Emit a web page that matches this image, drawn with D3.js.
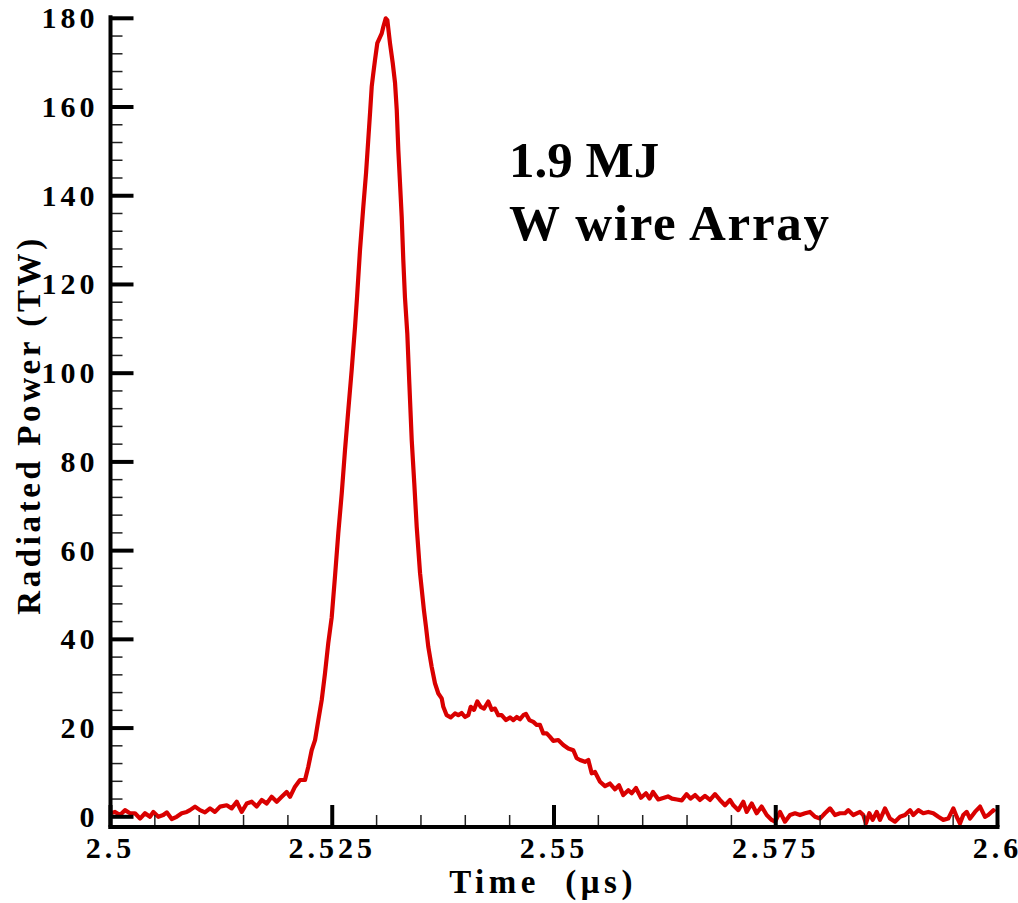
<meta charset="utf-8">
<style>
    body{ margin:0; background:#fff; }
    svg{ display:block; }
    .lbl{ font-family:"Liberation Serif","Times New Roman",serif; font-weight:bold; fill:#000; }
</style>
<script src="https://d3js.org/d3.v7.min.js"></script>
<body>
<div id="chart"></div>
</body>
<script>
    // time in microseconds
    var time = [
        2.5000, 2.50051, 2.50107, 2.50163, 2.50220, 2.50276, 2.50333, 2.50389, 2.50445, 2.50483,
        2.50539, 2.50595, 2.50634, 2.50690, 2.50746, 2.50803, 2.50859, 2.50896, 2.50953, 2.51009,
        2.51065, 2.51122, 2.51178, 2.51235, 2.51310, 2.51366, 2.51423, 2.51479, 2.51536, 2.51592,
        2.51648, 2.51705, 2.51761, 2.51817, 2.51874, 2.51930, 2.51986, 2.52024, 2.52080, 2.52136,
        2.52193, 2.52230, 2.52268, 2.52306, 2.52343, 2.52381, 2.52418, 2.52455, 2.52494, 2.52531,
        2.52568, 2.52607, 2.52644, 2.52681, 2.52719, 2.52757, 2.52779, 2.52813, 2.52850, 2.52881,
        2.52906, 2.52926, 2.52945, 2.52963, 2.52982, 2.53008, 2.53058, 2.53076, 2.53103, 2.53121,
        2.53151, 2.53182, 2.53208, 2.53227, 2.53245, 2.53264, 2.53283, 2.53301, 2.53320, 2.53346,
        2.53369, 2.53396, 2.53425, 2.53452, 2.53490, 2.53534, 2.53557, 2.53583, 2.53621, 2.53658,
        2.53696, 2.53734, 2.53752, 2.53790, 2.53835, 2.53884, 2.53921, 2.53959, 2.53997, 2.54034,
        2.54061, 2.54098, 2.54135, 2.54174, 2.54211, 2.54259, 2.54298, 2.54335, 2.54372, 2.54410,
        2.54459, 2.54504, 2.54541, 2.54580, 2.54617, 2.54654, 2.54684, 2.54722, 2.54767, 2.54805,
        2.54842, 2.54879, 2.54918, 2.54955, 2.54992, 2.55048, 2.55105, 2.55161, 2.55218, 2.55256,
        2.55293, 2.55349, 2.55387, 2.55425, 2.55462, 2.55519, 2.55575, 2.55631, 2.55688, 2.55733,
        2.55781, 2.55838, 2.55876, 2.55924, 2.55981, 2.56037, 2.56077, 2.56116, 2.56176, 2.56240,
        2.56285, 2.56330, 2.56386, 2.56440, 2.56494, 2.56539, 2.56590, 2.56646, 2.56702, 2.56759,
        2.56815, 2.56871, 2.56928, 2.56984, 2.57022, 2.57078, 2.57134, 2.57172, 2.57229, 2.57285,
        2.57341, 2.57398, 2.57454, 2.57492, 2.57548, 2.57604, 2.57661, 2.57717, 2.57773, 2.57830,
        2.57886, 2.57943, 2.57999, 2.58055, 2.58112, 2.58168, 2.58224, 2.58281, 2.58318, 2.58374,
        2.58450, 2.58487, 2.58517, 2.58555, 2.58593, 2.58638, 2.58675, 2.58732, 2.58788, 2.58844,
        2.58901, 2.58957, 2.59014, 2.59051, 2.59107, 2.59163, 2.59220, 2.59276, 2.59333, 2.59389,
        2.59445, 2.59502, 2.59540, 2.59577, 2.59614, 2.59653, 2.59690, 2.59746, 2.59803, 2.59859,
        2.59896, 2.59953, 2.59972
    ];

    // radiated power in TW
    var power = [
        0.8, 1.1, 0.4, 1.5, 0.8, 0.8, -0.4, 0.8, 0.0, 1.1,
        0.0, 0.4, 1.0, -0.5, 0.0, 0.8, 1.1, 1.5, 2.3, 1.5,
        1.0, 1.9, 1.1, 2.3, 2.6, 1.9, 3.4, 1.1, 3.0, 3.4,
        2.3, 3.8, 3.0, 4.5, 3.4, 4.5, 5.6, 4.5, 6.8, 8.3,
        8.3, 11.3, 15.0, 17.3, 21.8, 26.3, 32.3, 39.1, 45.0, 54.2,
        63.9, 72.9, 82.7, 91.7, 100.7, 110.5, 117.0, 127.8, 137.5, 145.1,
        152.6, 158.6, 164.6, 167.6, 170.6, 174.4, 176.6, 178.1, 180.0, 179.6,
        174.4, 169.9, 165.4, 159.4, 150.3, 142.8, 135.3, 125.5, 117.0, 109.0,
        97.7, 84.9, 75.1, 65.4, 54.9, 46.5, 42.8, 38.3, 33.8, 30.1,
        27.8, 26.7, 24.8, 22.9, 22.4, 23.3, 22.9, 23.4, 22.5, 22.9,
        24.8, 24.1, 26.0, 24.8, 24.4, 26.0, 24.1, 24.4, 22.9, 22.9,
        21.8, 22.4, 21.8, 22.5, 22.0, 22.9, 23.2, 21.8, 21.4, 20.7,
        20.7, 18.8, 18.8, 18.0, 17.1, 17.3, 16.2, 15.4, 15.0, 13.2,
        12.8, 12.4, 12.8, 9.8, 10.1, 7.9, 6.9, 7.5, 6.2, 7.1,
        4.9, 6.0, 5.3, 6.5, 4.3, 5.3, 4.1, 5.6, 3.9, 4.3,
        4.6, 4.1, 3.9, 3.7, 5.1, 4.1, 4.9, 3.8, 4.7, 3.8,
        5.1, 3.8, 2.6, 3.8, 2.6, 1.5, 3.4, 1.1, 3.0, 0.8,
        2.3, 0.4, -0.7, -1.1, 1.1, -1.1, 0.4, 0.8, 0.4, 0.8,
        1.1, 0.0, -0.4, 0.8, 1.9, 0.4, 0.8, 0.8, 1.5, 0.4,
        1.1, 0.4, -1.5, 0.8, -0.7, 1.1, -0.7, 1.9, -0.4, -1.1,
        0.0, 0.4, 1.5, 0.4, 1.5, 0.8, 1.1, 0.8, 0.0, -0.7,
        -0.4, 1.9, 0.0, -1.5, 0.4, 1.1, -0.4, 1.1, 2.3, 0.0,
        0.4, 1.5, 1.1
    ];

    var xTicks = [2.5, 2.525, 2.55, 2.575, 2.6];
    var xTickLabels = ["2.5", "2.525", "2.55", "2.575", "2.6"];
    var yTicks = [0, 20, 40, 60, 80, 100, 120, 140, 160, 180];

    var width = 1018, height = 903;
    var mLeft = 110.5, mRight = 997.5, mTop = 18.3, mBottom = 827;

    var svg = d3.select("#chart").append("svg")
        .attr("width", width)
        .attr("height", height);

    var x = d3.scaleLinear().domain([2.5, 2.6]).range([mLeft, mRight]);
    var y = d3.scaleLinear().domain([-2.3, 180]).range([mBottom, mTop]);

    // minor ticks
    var xMinor = d3.range(2.5, 2.6001, 0.005).filter(function(d){
        return Math.abs(Math.round(d / 0.025) * 0.025 - d) > 1e-6;
    });
    var yMinor = d3.range(0, 180.01, 4).filter(function(d){ return d % 20 != 0; });

    // the curve
    var pts = time.map(function(t, i){ return [t, power[i]]; });
    svg.append("path")
        .datum(pts)
        .attr("fill", "none")
        .attr("stroke", "#d90000")
        .attr("stroke-width", 4.2)
        .attr("stroke-linejoin", "round")
        .attr("d", d3.line().x(function(d){ return x(d[0]); }).y(function(d){ return y(d[1]); }));

    // x axis
    var xAxis = svg.append("g").attr("transform", "translate(0," + mBottom + ")");
    xAxis.selectAll(".minor").data(xMinor).enter().append("line")
        .attr("x1", function(d){ return x(d); }).attr("x2", function(d){ return x(d); })
        .attr("y1", 0).attr("y2", -12)
        .attr("stroke", "#222").attr("stroke-width", 1.5);
    xAxis.selectAll(".major").data(xTicks).enter().append("line")
        .attr("x1", function(d){ return x(d); }).attr("x2", function(d){ return x(d); })
        .attr("y1", 0).attr("y2", -22)
        .attr("stroke", "#000").attr("stroke-width", 4);
    xAxis.append("line")
        .attr("x1", mLeft - 2).attr("x2", mRight + 2)
        .attr("stroke", "#000").attr("stroke-width", 4);
    xAxis.selectAll(".tl").data(xTicks).enter().append("text")
        .attr("class", "lbl")
        .attr("x", function(d){ return x(d); })
        .attr("y", 31)
        .attr("text-anchor", "middle")
        .style("font-size", "30px")
        .style("letter-spacing", "4px")
        .text(function(d, i){ return xTickLabels[i]; });

    // y axis
    var yAxis = svg.append("g").attr("transform", "translate(" + mLeft + ",0)");
    yAxis.selectAll(".minor").data(yMinor).enter().append("line")
        .attr("y1", function(d){ return y(d); }).attr("y2", function(d){ return y(d); })
        .attr("x1", 0).attr("x2", 12)
        .attr("stroke", "#222").attr("stroke-width", 1.5);
    yAxis.selectAll(".major").data(yTicks).enter().append("line")
        .attr("y1", function(d){ return y(d); }).attr("y2", function(d){ return y(d); })
        .attr("x1", 0).attr("x2", 23)
        .attr("stroke", "#000").attr("stroke-width", 4);
    yAxis.append("line")
        .attr("y1", mTop - 3).attr("y2", mBottom + 2)
        .attr("stroke", "#000").attr("stroke-width", 4);
    yAxis.selectAll(".tl").data(yTicks).enter().append("text")
        .attr("class", "lbl")
        .attr("x", -12)
        .attr("y", function(d){ return y(d) + 10; })
        .attr("text-anchor", "end")
        .style("font-size", "30px")
        .style("letter-spacing", "4px")
        .text(function(d){ return d; });

    // axis titles
    svg.append("text")
        .attr("class", "lbl")
        .attr("x", 543)
        .attr("y", 893)
        .attr("text-anchor", "middle")
        .style("font-size", "33px")
        .style("letter-spacing", "4.5px")
        .style("white-space", "pre")
        .text("Time  (μs)");

    svg.append("text")
        .attr("class", "lbl")
        .attr("transform", "translate(40,425) rotate(-90)")
        .attr("text-anchor", "middle")
        .style("font-size", "33px")
        .style("letter-spacing", "3.6px")
        .text("Radiated Power (TW)");

    // annotation
    svg.append("text")
        .attr("class", "lbl")
        .attr("x", 509)
        .attr("y", 177)
        .style("font-size", "51px")
        .text("1.9 MJ");
    svg.append("text")
        .attr("class", "lbl")
        .attr("x", 509)
        .attr("y", 240)
        .style("font-size", "51px")
        .style("letter-spacing", "1.7px")
        .text("W wire Array");
</script>
